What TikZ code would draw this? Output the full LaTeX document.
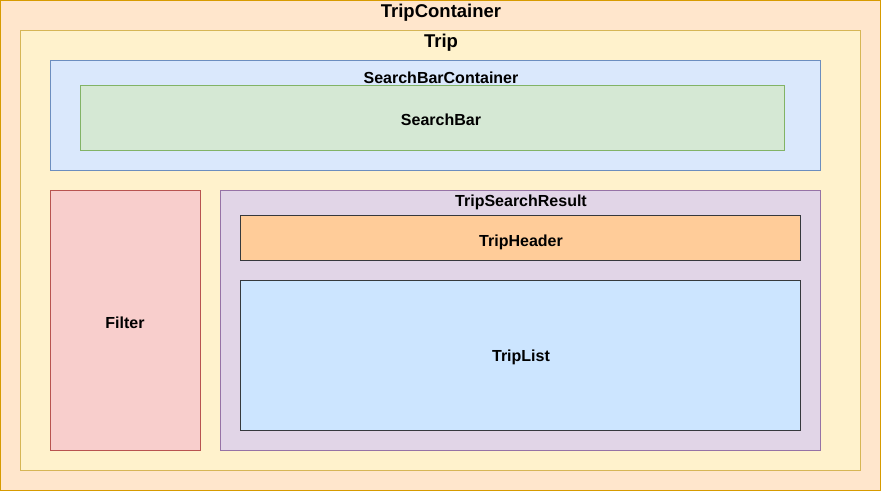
\documentclass[tikz,border=0pt]{standalone}
\usepackage{fontspec}
\setmainfont{Liberation Sans}
\begin{document}
\begin{tikzpicture}[x=1pt,y=-1pt,
  box/.style={line width=1pt},
  lbl/.style={font=\bfseries\fontsize{16}{18}\selectfont, inner sep=0pt},
  biglbl/.style={font=\bfseries\fontsize{18.5}{20}\selectfont, inner sep=0pt}]
\useasboundingbox (0,0) rectangle (881,491);
\definecolor{tcF}{HTML}{FFE6CC}\definecolor{tcS}{HTML}{D79B00}
\definecolor{trF}{HTML}{FFF2CC}\definecolor{trS}{HTML}{D6B656}
\definecolor{sbcF}{HTML}{DAE8FC}\definecolor{sbcS}{HTML}{6C8EBF}
\definecolor{sbF}{HTML}{D5E8D4}\definecolor{sbS}{HTML}{82B366}
\definecolor{fiF}{HTML}{F8CECC}\definecolor{fiS}{HTML}{B85450}
\definecolor{tsF}{HTML}{E1D5E7}\definecolor{tsS}{HTML}{9673A6}
\definecolor{thF}{HTML}{FFCC99}\definecolor{dkS}{HTML}{36393D}
\definecolor{tlF}{HTML}{CCE5FF}
\path[box,fill=tcF,draw=tcS] (0.5,0.5) rectangle (880.5,490.5);
\path[box,fill=trF,draw=trS] (20.5,30.5) rectangle (860.5,470.5);
\path[box,fill=sbcF,draw=sbcS] (50.5,60.5) rectangle (820.5,170.5);
\path[box,fill=sbF,draw=sbS] (80.5,85.5) rectangle (784.5,150.5);
\path[box,fill=fiF,draw=fiS] (50.5,190.5) rectangle (200.5,450.5);
\path[box,fill=tsF,draw=tsS] (220.5,190.5) rectangle (820.5,450.5);
\path[box,fill=thF,draw=dkS] (240.5,215.5) rectangle (800.5,260.5);
\path[box,fill=tlF,draw=dkS] (240.5,280.5) rectangle (800.5,430.5);
\node[biglbl] (tc) at (441,12.5) {TripContainer};
\node[biglbl] (tr) at (441,42.5) {Trip};
\node[lbl] (sbc) at (441,77.5) {SearchBarContainer};
\node[lbl] (sb) at (441,119.5) {SearchBar};
\node[lbl] (fi) at (125,322.5) {Filter};
\node[lbl] (ts) at (521,202.5) {TripSearchResult};
\node[lbl] (th) at (521,242.5) {TripHeader};
\node[lbl] (tl) at (521,357.5) {TripList};
\end{tikzpicture}
\end{document}
